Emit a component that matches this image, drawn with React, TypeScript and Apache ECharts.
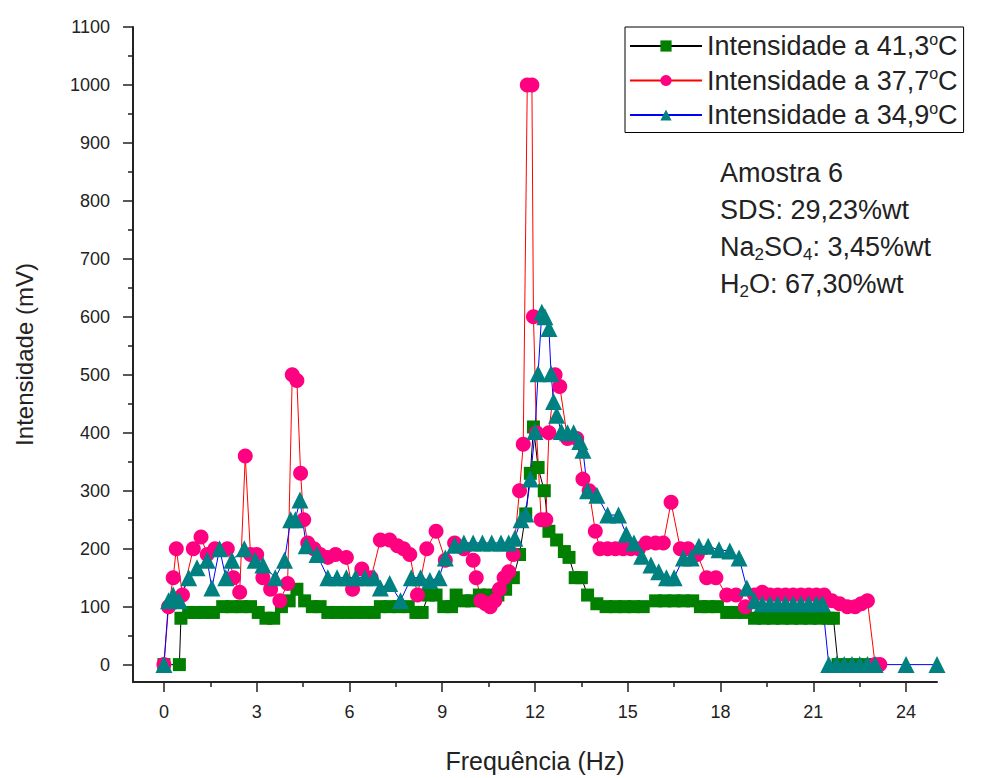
import React, { useEffect, useRef } from "react";
import * as echarts from "echarts";

const FONT = '"Liberation Sans", Arial, sans-serif';

// Frequency (Hz), intensity (mV) pairs
const data41: [number, number][] = [
  [0, 0], [0.5, 0], [0.55, 80], [0.8, 90], [1.05, 90], [1.3, 90], [1.6, 90], [1.9, 100], [2.2, 100], [2.5, 100],
  [2.8, 100], [3.05, 90], [3.3, 80], [3.55, 80], [3.8, 100], [4.05, 110], [4.3, 130], [4.55, 110], [4.8, 100], [5.05, 100],
  [5.3, 90], [5.6, 90], [5.9, 90], [6.2, 90], [6.5, 90], [6.8, 90], [7.0, 100], [7.3, 100], [7.6, 100], [7.9, 100],
  [8.15, 90], [8.35, 90], [8.55, 120], [8.8, 120], [9.05, 100], [9.3, 100], [9.45, 120], [9.7, 110], [9.95, 110], [10.2, 120],
  [10.5, 120], [10.8, 120], [11.05, 130], [11.3, 150], [11.5, 190], [11.7, 260], [11.85, 330], [11.95, 410], [12.1, 340], [12.3, 300],
  [12.45, 230], [12.7, 215], [12.95, 195], [13.1, 185], [13.3, 150], [13.5, 150], [13.7, 120], [14.0, 105], [14.3, 100], [14.6, 100],
  [14.9, 100], [15.2, 100], [15.5, 100], [15.9, 110], [16.2, 110], [16.5, 110], [16.8, 110], [17.1, 110], [17.35, 100], [17.6, 100],
  [17.9, 100], [18.2, 90], [18.5, 90], [18.8, 90], [19.1, 80], [19.4, 80], [19.7, 80], [20.0, 80], [20.3, 80], [20.6, 80],
  [20.9, 80], [21.2, 80], [21.5, 80], [21.65, 80], [21.8, 0], [22.1, 0], [22.4, 0], [22.7, 0], [23.0, 0],
];

const data37: [number, number][] = [
  [0, 0], [0.15, 100], [0.3, 150], [0.4, 200], [0.6, 120], [0.95, 200], [1.2, 220], [1.4, 190], [1.65, 200], [2.05, 200],
  [2.25, 150], [2.45, 125], [2.63, 360], [2.8, 190], [3.0, 190], [3.2, 150], [3.45, 130], [3.75, 110], [4.0, 140], [4.15, 500],
  [4.3, 490], [4.42, 330], [4.52, 250], [4.65, 210], [4.85, 200], [5.05, 190], [5.3, 185], [5.55, 190], [5.9, 185], [6.1, 130],
  [6.4, 165], [6.7, 150], [7.0, 215], [7.3, 215], [7.55, 205], [7.75, 200], [7.95, 190], [8.2, 120], [8.5, 200], [8.8, 230],
  [9.1, 180], [9.4, 210], [9.7, 200], [10.0, 180], [10.1, 150], [10.25, 110], [10.4, 105], [10.55, 100], [10.7, 110], [10.85, 130],
  [11.0, 150], [11.15, 160], [11.3, 190], [11.5, 300], [11.62, 380], [11.75, 1000], [11.9, 1000], [11.95, 600], [12.05, 400], [12.2, 250],
  [12.35, 250], [12.45, 400], [12.65, 500], [12.8, 480], [13.05, 390], [13.35, 390], [13.55, 320], [13.75, 300], [13.95, 230], [14.1, 200],
  [14.35, 200], [14.6, 200], [14.85, 200], [15.1, 200], [15.35, 200], [15.6, 210], [15.9, 210], [16.15, 210], [16.4, 280], [16.7, 200],
  [16.95, 200], [17.25, 190], [17.55, 150], [17.85, 150], [18.2, 120], [18.5, 120], [18.8, 100], [19.1, 120], [19.35, 125], [19.6, 120],
  [19.85, 120], [20.1, 120], [20.35, 120], [20.6, 120], [20.85, 120], [21.1, 120], [21.35, 120], [21.6, 110], [21.85, 105], [22.1, 100],
  [22.35, 100], [22.55, 105], [22.75, 110], [23.0, 0], [23.15, 0],
];

const data34: [number, number][] = [
  [0, 0], [0.15, 110], [0.3, 120], [0.5, 110], [0.8, 150], [1.07, 167], [1.4, 180], [1.55, 132], [1.8, 200], [2.0, 150],
  [2.2, 180], [2.6, 200], [2.95, 180], [3.2, 172], [3.6, 150], [3.9, 180], [4.1, 250], [4.25, 250], [4.4, 284], [4.6, 205],
  [4.95, 190], [5.3, 150], [5.6, 150], [5.9, 150], [6.2, 150], [6.5, 150], [6.8, 150], [7.0, 132], [7.3, 140], [7.65, 110],
  [8.0, 150], [8.3, 150], [8.6, 145], [8.9, 150], [9.1, 184], [9.4, 206], [9.7, 210], [10.0, 210], [10.3, 210], [10.6, 210],
  [10.9, 210], [11.15, 210], [11.35, 218], [11.55, 250], [11.7, 260], [11.85, 320], [12.0, 402], [12.1, 502], [12.22, 608], [12.32, 600],
  [12.45, 580], [12.52, 502], [12.6, 454], [12.7, 430], [12.85, 402], [13.05, 400], [13.25, 400], [13.45, 385], [13.55, 370], [13.7, 300],
  [14.0, 292], [14.35, 258], [14.7, 258], [14.95, 225], [15.2, 210], [15.45, 187], [15.75, 172], [16.0, 160], [16.25, 150], [16.5, 150],
  [16.8, 184], [17.05, 184], [17.3, 204], [17.6, 204], [17.95, 198], [18.3, 196], [18.6, 184], [18.85, 132], [19.1, 110], [19.35, 105],
  [19.6, 105], [19.85, 105], [20.1, 105], [20.35, 105], [20.6, 105], [20.85, 105], [21.1, 105], [21.3, 105], [21.5, 0], [21.75, 0],
  [22.0, 0], [22.25, 0], [22.5, 0], [22.75, 0], [23.0, 0], [24.0, 0], [25.0, 0],
];

const seriesNames = ["Intensidade a 41,3ºC", "Intensidade a 37,7ºC", "Intensidade a 34,9ºC"];

const xMajor = [0, 3, 6, 9, 12, 15, 18, 21, 24];
const xMinor = [1.5, 4.5, 7.5, 10.5, 13.5, 16.5, 19.5, 22.5];
const yMajor = [0, 100, 200, 300, 400, 500, 600, 700, 800, 900, 1000, 1100];
const yMinor = [50, 150, 250, 350, 450, 550, 650, 750, 850, 950, 1050];

const AXIS_COLOR = "#222";

export default function App() {
  const ref = useRef<HTMLDivElement>(null);

  useEffect(() => {
    if (!ref.current) return;
    const chart = echarts.init(ref.current, null, { renderer: "svg" });

    const xBase = { type: "value" as const, min: -1, max: 25, gridIndex: 0 };
    const yBase = { type: "value" as const, min: -30, max: 1100, gridIndex: 0 };

    const option: any = {
      animation: false,
      backgroundColor: "#fff",
      grid: { left: 133, right: 52, top: 27, bottom: 86, containLabel: false },
      xAxis: [
        {
          ...xBase,
          position: "bottom",
          name: "Frequência (Hz)",
          nameLocation: "middle",
          nameGap: 66,
          nameTextStyle: { fontFamily: FONT, fontSize: 25, color: "#222" },
          axisLine: { show: true, onZero: false, lineStyle: { color: AXIS_COLOR, width: 2 } },
          axisTick: { show: true, inside: false, length: 10, customValues: xMajor, lineStyle: { color: AXIS_COLOR, width: 1.5 } },
          axisLabel: {
            customValues: xMajor,
            formatter: (v: number) => String(v),
            fontFamily: FONT,
            fontSize: 18,
            color: "#222",
            margin: 21,
          },
          splitLine: { show: false },
        },
        {
          ...xBase,
          position: "bottom",
          axisLine: { show: false, onZero: false },
          axisTick: { show: true, inside: false, length: 5, customValues: xMinor, lineStyle: { color: AXIS_COLOR, width: 1.5 } },
          axisLabel: { show: false },
          splitLine: { show: false },
        },
      ],
      yAxis: [
        {
          ...yBase,
          position: "left",
          name: "Intensidade (mV)",
          nameLocation: "middle",
          nameGap: 97,
          nameTextStyle: { fontFamily: FONT, fontSize: 24, color: "#222" },
          axisLine: { show: true, onZero: false, lineStyle: { color: AXIS_COLOR, width: 2 } },
          axisTick: { show: true, inside: false, length: 10, customValues: yMajor, lineStyle: { color: AXIS_COLOR, width: 1.5 } },
          axisLabel: {
            customValues: yMajor,
            formatter: (v: number) => String(v),
            fontFamily: FONT,
            fontSize: 18,
            color: "#222",
            margin: 23,
          },
          splitLine: { show: false },
        },
        {
          ...yBase,
          position: "left",
          axisLine: { show: false, onZero: false },
          axisTick: { show: true, inside: false, length: 5, customValues: yMinor, lineStyle: { color: AXIS_COLOR, width: 1.5 } },
          axisLabel: { show: false },
          splitLine: { show: false },
        },
      ],
      legend: {
        left: 625,
        top: 27,
        orient: "vertical",
        data: seriesNames,
        borderColor: "#000",
        borderWidth: 1,
        padding: [4, 6, 4, 4],
        itemGap: 6,
        itemWidth: 72,
        itemHeight: 14,
        selectedMode: false,
        formatter: (name: string) => {
          const base = name.replace("ºC", "");
          return `{b|${base}}{sup|o}{b|C}`;
        },
        textStyle: {
          fontFamily: FONT,
          color: "#222",
          rich: {
            b: { fontFamily: FONT, fontSize: 27, lineHeight: 30, color: "#222" },
            sup: { fontFamily: FONT, fontSize: 16, lineHeight: 12, verticalAlign: "top", color: "#222" },
          },
        },
      },
      graphic: [
        ...[
          { y: 175, text: "{m|Amostra 6}" },
          { y: 212, text: "{m|SDS: 29,23%wt}" },
          { y: 249, text: "{m|Na}{s|2}{m|SO}{s|4}{m|: 3,45%wt}" },
          { y: 286, text: "{m|H}{s|2}{m|O: 67,30%wt}" },
        ].map((t) => ({
          type: "text",
          left: 720,
          top: t.y - 16,
          silent: true,
          style: {
            text: t.text,
            fill: "#222",
            rich: {
              m: { fontFamily: FONT, fontSize: 27, lineHeight: 32, fill: "#222" },
              s: { fontFamily: FONT, fontSize: 17, lineHeight: 15, verticalAlign: "bottom", fill: "#222" },
            },
          },
        })),
      ],
      series: [
        {
          name: seriesNames[0],
          type: "line",
          xAxisIndex: 0,
          yAxisIndex: 0,
          data: data41,
          symbol: "rect",
          symbolSize: 13,
          lineStyle: { color: "#000", width: 1 },
          itemStyle: { color: "#007f00" },
        },
        {
          name: seriesNames[1],
          type: "line",
          xAxisIndex: 0,
          yAxisIndex: 0,
          data: data37,
          symbol: "circle",
          symbolSize: 15,
          lineStyle: { color: "#ff0000", width: 1 },
          itemStyle: { color: "#ff0080" },
        },
        {
          name: seriesNames[2],
          type: "line",
          xAxisIndex: 0,
          yAxisIndex: 0,
          data: data34,
          symbol: "triangle",
          symbolSize: 17,
          lineStyle: { color: "#0000ff", width: 1 },
          itemStyle: { color: "#008080" },
        },
      ],
    };

    chart.setOption(option);
    return () => chart.dispose();
  }, []);

  return (
    <div
      ref={ref}
      style={{ position: "fixed", left: 0, top: 0, width: 989, height: 778, background: "#fff" }}
    />
  );
}
